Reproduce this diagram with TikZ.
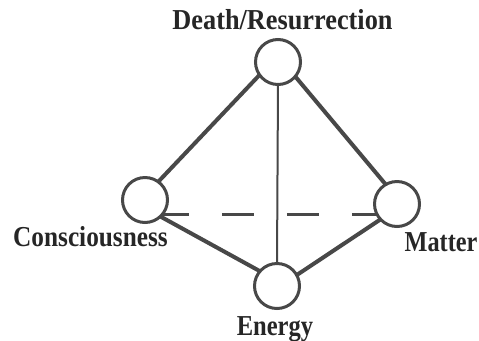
\documentclass[tikz,border=0pt]{standalone}
\usepackage{fontspec}
\setmainfont{Liberation Serif}
\usetikzlibrary{backgrounds}
\definecolor{linec}{RGB}{72,72,72}
\definecolor{textc}{RGB}{38,38,38}
\begin{document}
\begin{tikzpicture}[x=1bp,y=-1bp,
  ball/.style={circle,draw=linec,line width=3bp,fill=white,minimum size=45bp,inner sep=0pt,outer sep=0pt},
  lab/.style={anchor=base,inner sep=0pt,text=textc,font=\bfseries\fontsize{29}{29}\selectfont},
  thickedge/.style={draw=linec,line width=4bp},
  thinedge/.style={draw=linec,line width=2bp},
  dashedge/.style={draw=linec,line width=3bp,dash pattern=on 32bp off 33bp,dash phase=5bp}]
\useasboundingbox (0,0) rectangle (479,340);
\node[ball] (top) at (278,62) {};
\node[ball] (left) at (145,200) {};
\node[ball] (right) at (397,204) {};
\node[ball] (bottom) at (277,286) {};
\node[lab] (tl) at (282.5,29.3) {\scalebox{0.91}[1]{Death/Resurrection}};
\node[lab] (cl) at (90.5,246) {\scalebox{0.875}[1]{Consciousness}};
\node[lab] (ml) at (441,251.5) {\scalebox{0.84}[1]{Matter}};
\node[lab] (el) at (275,335.5) {\scalebox{0.85}[1]{Energy}};
\begin{scope}[on background layer]
\fill[white] (0,0) rectangle (479,340);
\draw[thickedge] (top.-145) -- (left.54);
\draw[thickedge] (top.-40) -- (right.120);
\draw[thickedge] (left.-47) -- (bottom.139);
\draw[thickedge] (right.-137) -- (bottom.29.5);
\draw[thinedge] (top.-90) -- (bottom.90);
\draw[dashedge] (left.-41) -- (left.-41 -| right.-151);
\end{scope}
\end{tikzpicture}
\end{document}
